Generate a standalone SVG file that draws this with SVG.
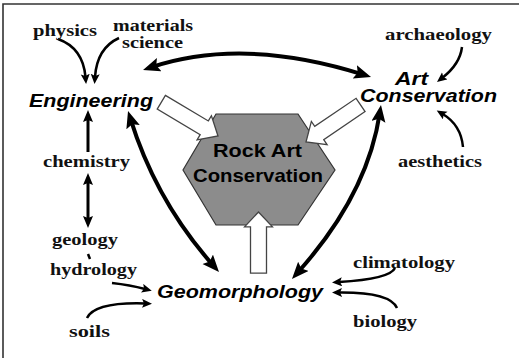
<svg xmlns="http://www.w3.org/2000/svg" width="519" height="358" viewBox="0 0 519 358">
<defs>
<style>
.lbl{font-family:"Liberation Serif","Times New Roman",serif;font-weight:bold;font-size:17.5px;fill:#111}
.main{font-family:"Liberation Sans",Arial,sans-serif;font-weight:bold;font-style:italic;font-size:19px;fill:#000}
.core{font-family:"Liberation Sans",Arial,sans-serif;font-weight:bold;font-size:18.5px;fill:#000;text-anchor:middle}
.big{fill:none;stroke:#000;stroke-width:4}
.mid{fill:none;stroke:#000;stroke-width:3}
.sm{fill:none;stroke:#000;stroke-width:2.5}
.hollow{fill:#fff;stroke:#444;stroke-width:1.3;stroke-linejoin:miter}
</style>
<marker id="hb" markerUnits="userSpaceOnUse" markerWidth="20" markerHeight="16" refX="9" refY="7" orient="auto-start-reverse" viewBox="0 0 20 16">
<path d="M0,0 L17,7 L0,14 L3,7 z" fill="#000"/>
</marker>
<marker id="hm" markerUnits="userSpaceOnUse" markerWidth="14" markerHeight="12" refX="4" refY="5" orient="auto-start-reverse" viewBox="0 0 14 12">
<path d="M0,0 L12,5 L0,10 L2,5 z" fill="#000"/>
</marker>
<marker id="hs" markerUnits="userSpaceOnUse" markerWidth="12" markerHeight="10" refX="3" refY="4.5" orient="auto" viewBox="0 0 12 10">
<path d="M0,0 L10,4.5 L0,9 L2,4.5 z" fill="#000"/>
</marker>
<polygon id="harrow" points="-66,-8 -16,-8 -16,-14 0,0 -16,14 -16,8 -66,8"/>
</defs>
<rect width="519" height="358" fill="#fff"/>
<path d="M3,358 L3,4 L519,4" fill="none" stroke="#333" stroke-width="1.6"/>

<g id="connectors">
<path class="big" d="M150.6,67.5 Q243,36.5 363.4,74.6" marker-start="url(#hb)" marker-end="url(#hb)"/>
<path class="big" d="M130.4,118.6 Q156,201 213.7,266" marker-start="url(#hb)" marker-end="url(#hb)"/>
<path class="big" d="M379.8,112.9 C372,165 345,220 297.3,273" marker-start="url(#hb)" marker-end="url(#hb)"/>
<path class="mid" d="M88,152 L88,118" marker-end="url(#hm)"/>
<path class="mid" d="M88,181 L88,220" marker-start="url(#hm)" marker-end="url(#hm)"/>
<path class="sm" d="M88,254 L90,259" stroke-width="2"/>
<path class="sm" d="M58,39 Q83,48 85.5,77" marker-end="url(#hs)"/>
<path class="sm" d="M119,38 Q97,48 95,77" marker-end="url(#hs)"/>
<path class="sm" d="M462,47 Q460,64 442.5,77.7" marker-end="url(#hs)"/>
<path class="sm" d="M463,147 Q461,125 442.7,114" marker-end="url(#hs)"/>
<path class="sm" d="M112,283 Q130,285 145,289" marker-end="url(#hs)"/>
<path class="sm" d="M87,318 Q95,302 145,303.5" marker-end="url(#hs)"/>
<path class="sm" d="M395,268 Q390,279 339,282" marker-end="url(#hs)"/>
<path class="sm" d="M397,308 Q390,292 339,292.5" marker-end="url(#hs)"/>
</g>

<g id="rock-art-conservation">
<polygon points="216,114 298,114 335,170 298,225 216,225 183,170" fill="#8c8c8c" stroke="#333" stroke-width="1.2"/>
<text class="core" x="257.5" y="157" textLength="89" lengthAdjust="spacingAndGlyphs">Rock Art</text>
<text class="core" x="258" y="182" textLength="130" lengthAdjust="spacingAndGlyphs">Conservation</text>
</g>

<g id="core-connectors">
<use href="#harrow" class="hollow" transform="translate(218,136) rotate(30.8)"/>
<use href="#harrow" class="hollow" transform="translate(306,142) rotate(145.8)"/>
<use href="#harrow" class="hollow" transform="translate(258.5,212) rotate(-90) scale(0.925,1)"/>
</g>

<g id="engineering"><text class="main" x="29" y="107" textLength="124" lengthAdjust="spacingAndGlyphs">Engineering</text></g>
<g id="art-conservation">
<text class="main" x="395" y="85" textLength="33" lengthAdjust="spacingAndGlyphs">Art</text>
<text class="main" x="360" y="102" textLength="137" lengthAdjust="spacingAndGlyphs">Conservation</text>
</g>
<g id="geomorphology"><text class="main" x="157" y="298" textLength="166" lengthAdjust="spacingAndGlyphs">Geomorphology</text></g>

<g id="physics"><text class="lbl" x="33" y="36" textLength="64" lengthAdjust="spacingAndGlyphs">physics</text></g>
<g id="materials-science">
<text class="lbl" x="113" y="31" textLength="80" lengthAdjust="spacingAndGlyphs">materials</text>
<text class="lbl" x="122" y="48" textLength="61" lengthAdjust="spacingAndGlyphs">science</text>
</g>
<g id="chemistry"><text class="lbl" x="43" y="167" textLength="87" lengthAdjust="spacingAndGlyphs">chemistry</text></g>
<g id="geology"><text class="lbl" x="52" y="245" textLength="66" lengthAdjust="spacingAndGlyphs">geology</text></g>
<g id="hydrology"><text class="lbl" x="50" y="275" textLength="87" lengthAdjust="spacingAndGlyphs">hydrology</text></g>
<g id="soils"><text class="lbl" x="69" y="337" textLength="41" lengthAdjust="spacingAndGlyphs">soils</text></g>
<g id="archaeology"><text class="lbl" x="385" y="40" textLength="107" lengthAdjust="spacingAndGlyphs">archaeology</text></g>
<g id="aesthetics"><text class="lbl" x="398" y="167" textLength="84" lengthAdjust="spacingAndGlyphs">aesthetics</text></g>
<g id="climatology"><text class="lbl" x="353" y="268" textLength="102" lengthAdjust="spacingAndGlyphs">climatology</text></g>
<g id="biology"><text class="lbl" x="353" y="327" textLength="64" lengthAdjust="spacingAndGlyphs">biology</text></g>
</svg>
